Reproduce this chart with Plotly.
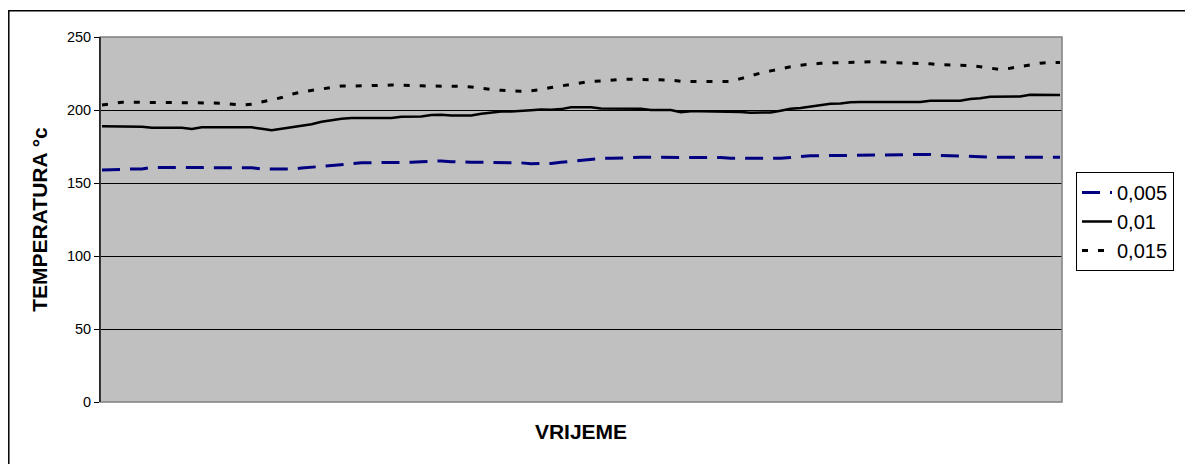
import plotly.graph_objects as go

# ---- data ----
time_index = list(range(97))

series_names = ["0,005", "0,01", "0,015"]

temp_0005 = [158.9, 158.9, 159.3, 159.6, 159.6, 160.7, 160.7, 160.7, 160.7, 160.7,
             160.7, 160.7, 160.7, 160.7, 160.7, 160.4, 159.6, 159.6, 159.6, 159.6,
             160.2, 160.8, 161.4, 162.1, 162.3, 163.4, 163.8, 163.9, 163.9, 164.0,
             164.2, 164.2, 164.6, 165.1, 165.1, 164.6, 164.2, 164.2, 164.2, 164.2,
             164.2, 164.2, 163.8, 163.2, 163.2, 163.4, 164.2, 165.0, 165.3, 166.2,
             166.9, 166.9, 167.2, 167.6, 167.6, 167.6, 167.6, 167.6, 167.6, 167.6,
             167.6, 167.6, 167.4, 166.9, 166.9, 166.9, 166.9, 166.9, 166.9, 167.5,
             168.1, 168.7, 168.7, 168.8, 168.9, 168.9, 168.9, 168.9, 168.9, 169.3,
             169.6, 169.6, 169.6, 169.6, 168.9, 168.7, 168.7, 168.7, 168.0, 167.6,
             167.6, 167.6, 167.6, 167.6, 167.6, 167.6, 167.6]

temp_001 = [188.8, 188.8, 188.8, 188.8, 188.6, 187.9, 187.9, 187.9, 187.9, 187.0,
            188.1, 188.1, 188.1, 188.1, 188.1, 188.1, 187.2, 186.1, 187.2, 188.3,
            189.3, 190.2, 191.9, 193.0, 194.0, 194.5, 194.5, 194.5, 194.5, 194.5,
            195.4, 195.4, 195.5, 196.5, 196.8, 196.3, 196.3, 196.3, 197.5, 198.2,
            198.9, 198.9, 199.6, 199.8, 200.3, 200.1, 200.6, 201.8, 201.8, 201.8,
            201.0, 200.9, 200.9, 200.9, 200.9, 200.0, 200.0, 200.0, 198.4, 199.1,
            199.1, 199.1, 199.1, 199.1, 198.6, 198.2, 198.2, 198.3, 199.5, 200.8,
            201.3, 202.2, 203.5, 204.2, 204.5, 205.3, 205.5, 205.5, 205.5, 205.5,
            205.5, 205.5, 205.5, 206.4, 206.4, 206.4, 206.4, 207.5, 208.0, 209.1,
            209.1, 209.4, 209.2, 210.4, 210.4, 210.3, 210.3]

temp_0015 = [203.4, 204.5, 205.3, 205.3, 205.3, 205.3, 205.3, 205.3, 205.3, 205.3,
             205.3, 204.8, 204.6, 204.0, 203.3, 204.0, 205.3, 207.0, 208.5, 210.8,
             212.4, 213.5, 214.7, 215.7, 216.4, 216.4, 216.4, 216.7, 216.9, 217.1,
             217.1, 217.0, 216.6, 216.4, 216.4, 216.4, 216.2, 215.8, 214.8, 214.0,
             213.5, 213.2, 212.8, 213.2, 214.0, 215.4, 216.5, 217.7, 219.0, 219.7,
             219.9, 220.6, 221.0, 221.0, 221.0, 221.0, 221.0, 220.5, 219.6, 219.6,
             219.6, 219.6, 219.5, 219.6, 221.5, 223.5, 225.3, 226.8, 228.3, 229.6,
             230.7, 231.6, 232.0, 232.3, 232.6, 232.6, 232.7, 233.0, 232.8, 232.6,
             232.2, 232.0, 232.0, 231.6, 231.0, 230.7, 230.6, 230.5, 229.6, 228.5,
             227.8, 228.6, 229.7, 231.0, 232.0, 232.6, 232.6]

y_ticks = [0, 50, 100, 150, 200, 250]
x_title = "VRIJEME"
y_title = "TEMPERATURA °c"

# ---- layout geometry (figure pixels; page body adds an 8px offset) ----
OFF = 8
W, H = 1193 - OFF, 464 - OFF
PL, PR, PT, PB = 100 - OFF, 1062 - OFF, 37 - OFF, 402 - OFF
pw, ph = PR - PL, PB - PT

def px_x(p):
    return (p - OFF - PL) / pw

def px_y(p):
    return (PB - (p - OFF)) / ph

FONT = "Liberation Sans, Arial, sans-serif"

fig = go.Figure()
fig.add_trace(go.Scatter(x=time_index, y=temp_0005, mode="lines", name=series_names[0],
                         line=dict(color="#000080", width=3, dash="18px,10px")))
fig.add_trace(go.Scatter(x=time_index, y=temp_001, mode="lines", name=series_names[1],
                         line=dict(color="#000000", width=2.5)))
fig.add_trace(go.Scatter(x=time_index, y=temp_0015, mode="lines", name=series_names[2],
                         line=dict(color="#000000", width=3, dash="6px,10px")))

fig.update_layout(
    width=W, height=H,
    margin=dict(l=PL, r=W - PR, t=PT, b=H - PB, pad=0),
    paper_bgcolor="white",
    plot_bgcolor="#C0C0C0",
    font=dict(family=FONT, color="black"),
    showlegend=True,
    legend=dict(
        x=px_x(1076), y=px_y(172), xanchor="left", yanchor="top",
        bgcolor="white", bordercolor="black", borderwidth=1,
        font=dict(size=20, family=FONT),
        tracegroupgap=0,
    ),
    xaxis=dict(
        range=[-0.2, 96.2], showticklabels=False, ticks="", showgrid=False,
        zeroline=False, showline=False,
        title=dict(text=x_title, font=dict(size=21, family=FONT, weight="bold"), standoff=22),
    ),
    yaxis=dict(
        range=[0, 250], tickvals=y_ticks, ticks="outside", ticklen=5, tickcolor="black",
        tickfont=dict(size=14.5, family=FONT), showgrid=True, gridcolor="#000000", gridwidth=1,
        zeroline=False, showline=True, linecolor="black", linewidth=1,
        title=dict(text=y_title, font=dict(size=21, family=FONT, weight="bold"), standoff=13),
    ),
    shapes=[
        dict(type="rect", xref="paper", yref="paper", x0=0, x1=1, y0=0, y1=1,
             line=dict(color="#808080", width=1.5), layer="above"),
        dict(type="line", xref="paper", yref="paper", x0=0, x1=0, y0=0, y1=1,
             line=dict(color="black", width=1.2), layer="above"),
        # outer chart frame
        dict(type="rect", xref="paper", yref="paper",
             x0=px_x(8.8), x1=px_x(1220), y0=px_y(490), y1=px_y(10.8),
             line=dict(color="black", width=1.5), layer="below"),
    ],
)

fig.write_html("out.html")
